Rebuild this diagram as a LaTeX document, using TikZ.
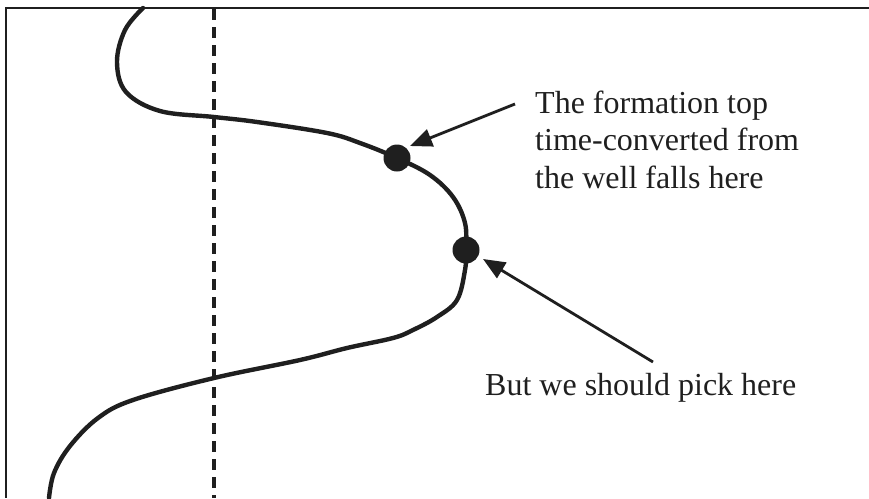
\documentclass[tikz,border=0pt]{standalone}
\usepackage{fontspec}
\setmainfont{Liberation Serif}
\usetikzlibrary{arrows.meta}
\begin{document}
\begin{tikzpicture}[x=1pt,y=-1pt,
  ink/.style={color={black!88}},
  curveline/.style={ink, line width=4.4pt, line cap=round},
  frameline/.style={ink, line width=2.6pt},
  wellline/.style={ink, line width=3.2pt, dash pattern=on 11pt off 7pt},
  dotnode/.style={circle, fill={black!88}, inner sep=0pt, minimum size=27pt},
  pointer/.style={ink, line width=2.8pt, -{Triangle[length=22pt,width=18pt]}},
  label/.style={ink, font=\fontsize{32}{37.5}\selectfont, inner sep=0pt, align=left}]
\useasboundingbox (0,0) rectangle (869,498);
\draw[frameline] (869,8) -- (6,8) -- (6,498);
\coordinate (wtop) at (214,9);
\coordinate (wbot) at (214,498);
\draw[wellline] (wtop) -- (wbot);
\draw[curveline] plot[smooth, tension=0.6] coordinates {
  (143,8) (125,30) (117,62) (126,92) (160,111) (214,117) (257,122) (327,133)
  (360,143) (397,158) (430,175) (453,197) (465,223) (466,250) (465,270)
  (457,300) (437,317) (413,330) (393,338) (347,348) (300,360) (214,378)
  (133,400) (98,418) (70,446) (54,473) (49,498)};
\node[dotnode] (d1) at (397,158) {};
\node[dotnode] (d2) at (466,250) {};
\node[label, anchor=base west] (t1) at (535,188) {The formation top\\time-converted from\\the well falls here};
\node[label, anchor=base west] (t2) at (485,395) {But we should pick here};
\coordinate (a1) at (515,104);
\coordinate (h1) at (410,146);
\coordinate (a2) at (653,362);
\coordinate (h2) at (483,259);
\draw[pointer] (a1) -- (h1);
\draw[pointer] (a2) -- (h2);
\end{tikzpicture}
\end{document}
